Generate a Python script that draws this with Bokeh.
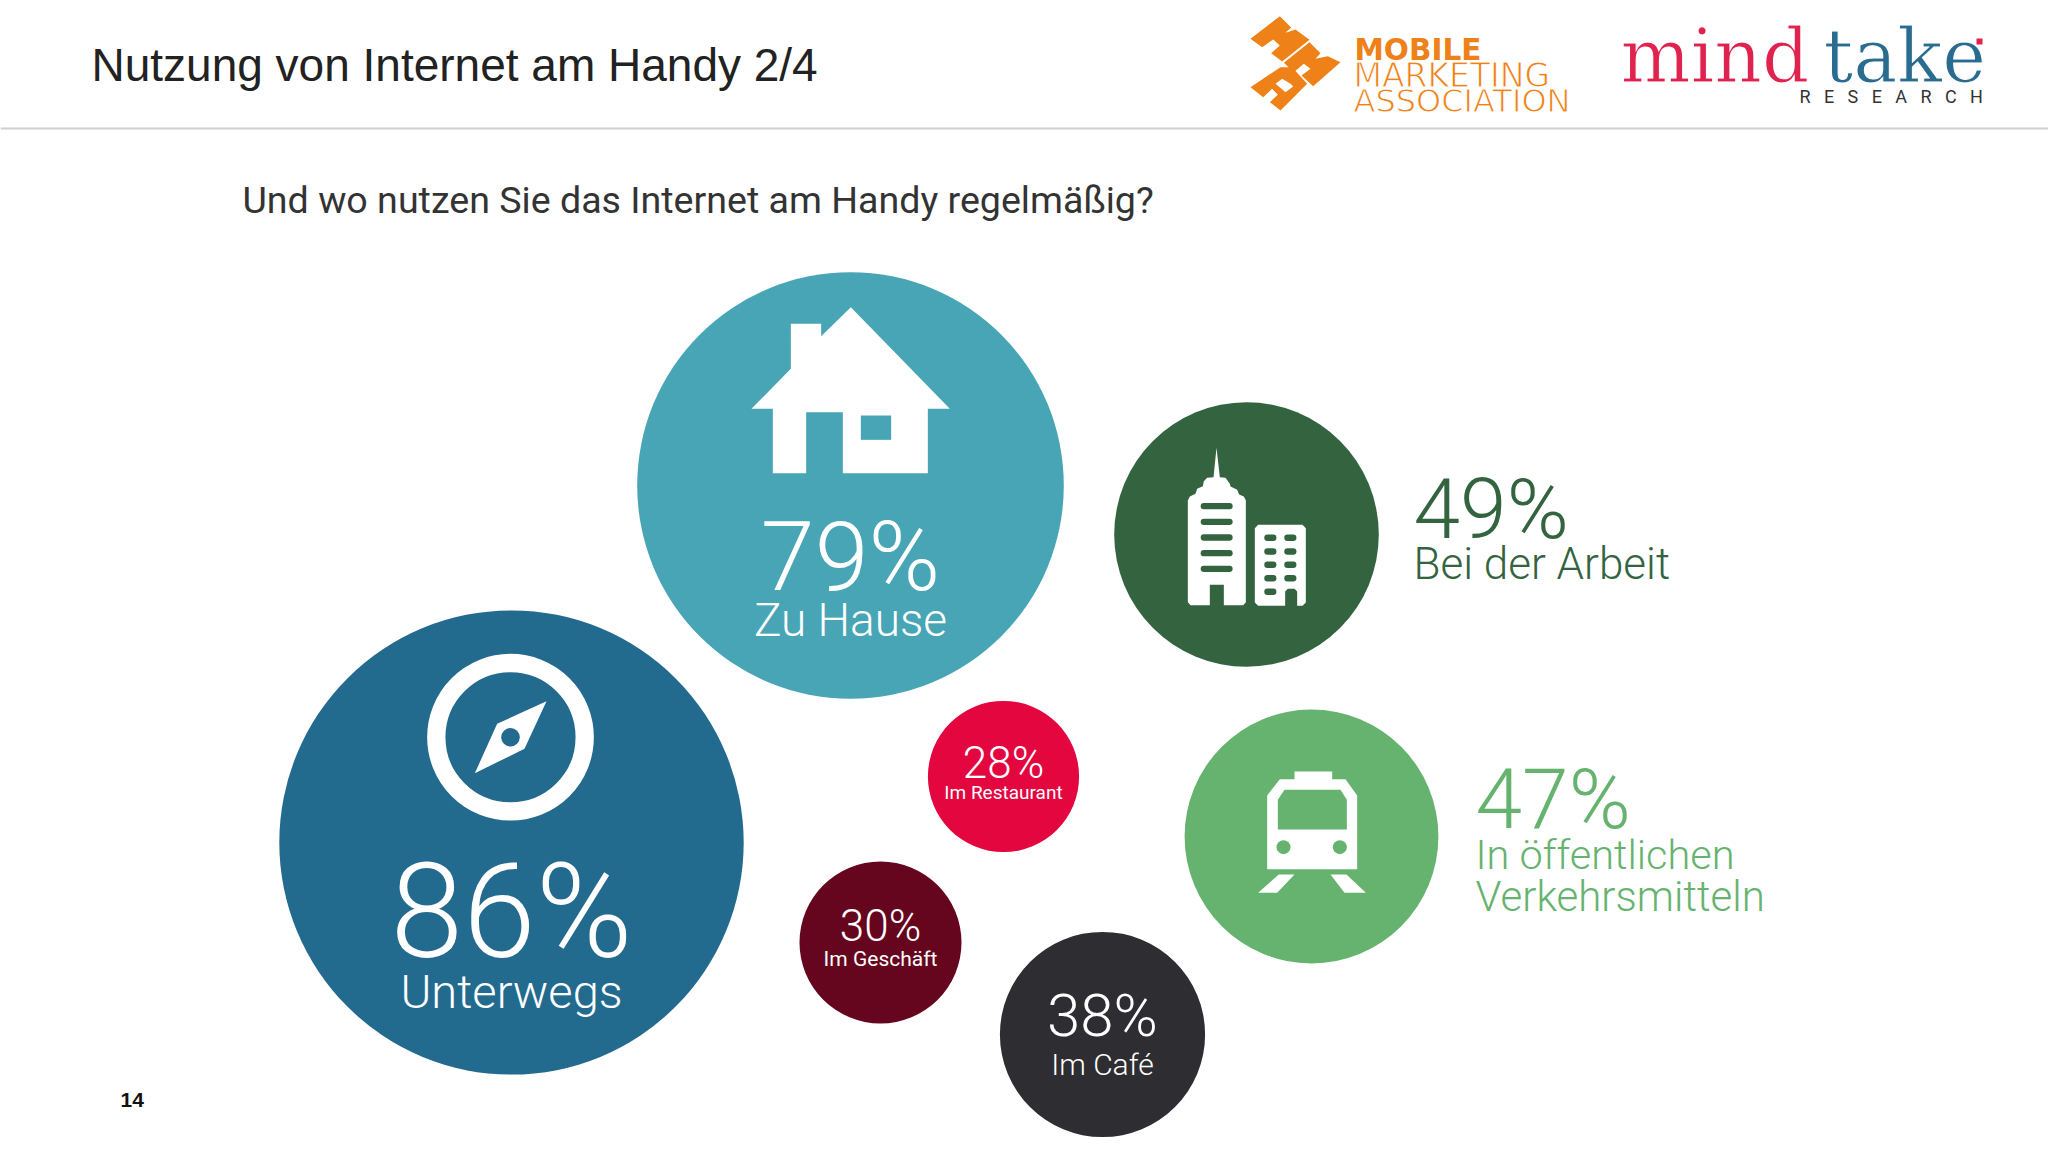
from bokeh.plotting import figure
from bokeh.models import ColumnDataSource, Range1d
from bokeh.core.properties import value
from bokeh.embed import file_html
from bokeh.resources import INLINE

# ---- data ----
categories = ["Unterwegs", "Zu Hause", "Bei der Arbeit", "In öffentlichen Verkehrsmitteln", "Im Café", "Im Geschäft", "Im Restaurant"]
values = [86, 79, 49, 47, 38, 30, 28]
title = "Nutzung von Internet am Handy 2/4"
question = "Und wo nutzen Sie das Internet am Handy regelmäßig?"
page_number = "14"

# ---- layout (separate from data) ----
centers_x = [511, 850, 1246, 1311, 1102, 880, 1003]
centers_y = [842, 485, 534, 836, 1034, 942, 776]
colors = ["#236a8f", "#47a5b5", "#33633f", "#66b36f", "#2e2d31", "#66061e", "#e3063f"]
RADIUS_PER_POINT = 2.7
LIGHT = "Roboto Light"
REG = "Roboto"
BASELINE_SHIFT = 0.35

p = figure(width=2048, height=1152, output_backend="svg", toolbar_location=None,
           x_range=Range1d(0, 2048), y_range=Range1d(1152, 0), min_border=0,
           outline_line_color=None, background_fill_color="white", border_fill_color="white")
p.axis.visible = False
p.grid.visible = False

src = ColumnDataSource(dict(x=centers_x, y=centers_y, r=[v * RADIUS_PER_POINT for v in values],
                            c=colors, name=categories, v=values))
p.circle(x="x", y="y", radius="r", fill_color="c", line_color=None, source=src)


def txt(x, y, s, size, color, font=REG, align="left", style="normal", **kw):
    p.text([x], [y - BASELINE_SHIFT * size], text=[s], text_font=value(font), text_font_size=f"{size}px", text_color=color,
           text_align=align, text_baseline="alphabetic", text_font_style=style, **kw)


def poly(xs, ys, color):
    p.patch(xs, ys, fill_color=color, line_color=None)


def zpoly(pts, ox, oy, color, s=3.0):
    poly([ox + a / s for a, b in pts], [oy + b / s for a, b in pts], color)


def zlines(segs, ox, oy, color, w, s=3.0):
    p.multi_line([[ox + a / s for a in seg[0]] for seg in segs], [[oy + b / s for b in seg[1]] for seg in segs],
                 line_color=color, line_width=w, line_cap="round")


# header
txt(91, 81, title, 46, "#222222", font="Liberation Sans")
p.segment([0], [128], [2048], [128], line_color="#d0d0d0", line_width=2)
txt(242, 213, question, 37.6, "#333333", font="Roboto")
txt(120, 1107, page_number, 21, "#111111", font="Liberation Sans", style="bold")

# MMA logo
ORANGE = "#ee8118"
zpoly([(118, 32), (152, 66), (135, 82), (165, 72), (207, 103), (125, 168), (92, 143), (118, 120), (98, 102), (65, 125), (30, 100)], 1240, 5, ORANGE)
zpoly([(207, 110), (240, 143), (225, 160), (262, 152), (300, 170), (218, 242), (183, 210), (210, 190), (190, 175), (160, 200), (130, 172)], 1240, 5, ORANGE)
zpoly([(120, 185), (155, 185), (200, 235), (120, 315), (88, 290), (112, 268), (95, 250), (68, 275), (30, 245)], 1240, 5, ORANGE)
zpoly([(105, 235), (125, 220), (150, 235), (158, 243), (135, 260)], 1240, 5, "white")
txt(1354, 60, "MOBILE", 29.5, ORANGE, font="DejaVu Sans", style="bold")
txt(1353, 87, "MARKETING", 33, ORANGE, font="DejaVu Sans", text_outline_color="white")
txt(1353, 112, "ASSOCIATION", 32, ORANGE, font="DejaVu Sans", text_outline_color="white")

# mindtake logo
txt(1620, 81, "mind", 74, "#e0224f", font="DejaVu Serif", text_outline_color="white")
txt(1823, 81, "take", 74, "#2a6c90", font="DejaVu Serif", text_outline_color="white")
p.rect([1979], [41], 6, 6, fill_color="#e0224f", line_color=None)
txt(1799, 102, "R\u00a0\u00a0\u00a0E\u00a0\u00a0\u00a0S\u00a0\u00a0\u00a0E\u00a0\u00a0\u00a0A\u00a0\u00a0\u00a0R\u00a0\u00a0\u00a0C\u00a0\u00a0\u00a0H", 18, "#333333")

# house icon
zpoly([(451, 80), (748, 385), (682, 385), (682, 578), (427, 578), (427, 395), (317, 395), (317, 578), (217, 578), (217, 385),
       (153, 385), (271, 265), (271, 130), (362, 130), (362, 167)], 700, 280, "white")
zpoly([(481, 405), (572, 405), (572, 478), (481, 478)], 700, 280, colors[1])

# buildings icon
zpoly([(228, 82), (238, 170), (255, 172), (268, 190), (270, 198), (290, 208), (296, 222), (310, 228), (316, 240), (316, 545), (308, 554),
       (250, 554), (250, 493), (208, 493), (208, 554), (150, 554), (142, 545), (142, 240), (148, 228), (165, 220), (170, 205), (187, 197),
       (190, 182), (200, 172), (219, 170)], 1140, 420, "white")
zlines([([190, 267], [yy, yy]) for yy in (257, 304, 351, 398, 445)], 1140, 420, colors[2], 6.3)
zpoly([(353, 313), (486, 313), (496, 323), (496, 546), (486, 556), (470, 556), (470, 513), (462, 505), (442, 505), (434, 513), (434, 556),
       (353, 556), (343, 546), (343, 323)], 1140, 420, "white")
zlines([([381, 398], [yy, yy]) for yy in (352, 393, 433, 473, 514)] +
       [([441, 458], [yy, yy]) for yy in (352, 393, 433, 473)], 1140, 420, colors[2], 6.5)

# train icon
zpoly([(222, 93), (335, 93), (335, 116), (375, 116), (410, 165), (410, 386), (140, 386), (140, 165), (178, 116), (222, 116)], 1220, 740, "white")
zpoly([(192, 148), (360, 148), (379, 178), (379, 267), (172, 267), (172, 178)], 1220, 740, colors[3])
p.circle([1220 + 189 / 3, 1220 + 358 / 3], [740 + 320 / 3] * 2, radius=7, fill_color=colors[3], line_color=None)
zpoly([(175, 402), (222, 402), (170, 457), (113, 457)], 1220, 740, "white")
zpoly([(330, 402), (378, 402), (436, 457), (372, 457)], 1220, 740, "white")

# compass icon
p.circle([510], [736.7], radius=74.2, fill_color=None, line_color="white", line_width=18.3)
zpoly([(438, 212), (372, 355), (223, 428), (290, 280)], 400, 630, "white")
p.circle([510], [736.7], radius=9.3, fill_color=colors[0], line_color=None)

# bubble labels
W = "white"
txt(511, 957, f"{values[0]}%", 131, W, font=LIGHT, align="center")
txt(511, 1007, categories[0], 47, W, font=LIGHT, align="center")
txt(850, 590, f"{values[1]}%", 97, W, font=LIGHT, align="center")
txt(850, 636, categories[1], 46, W, font=LIGHT, align="center")
txt(1413, 538, f"{values[2]}%", 84, colors[2], font=LIGHT)
txt(1413, 579, categories[2], 44, colors[2], font=LIGHT)
txt(1475, 828, f"{values[3]}%", 84, colors[3], font=LIGHT)
line1, line2 = categories[3].split(" V")
txt(1475, 869, line1, 41.5, colors[3], font=LIGHT)
txt(1475, 911, "V" + line2, 42, colors[3], font=LIGHT)
txt(1102, 1036, f"{values[4]}%", 60, W, font=LIGHT, align="center")
txt(1102, 1074, categories[4], 30, W, font=LIGHT, align="center")
txt(880, 941, f"{values[5]}%", 44, W, font=LIGHT, align="center")
txt(880, 966, categories[5], 21, W, font=REG, align="center")
txt(1003, 778, f"{values[6]}%", 44, W, font=LIGHT, align="center")
txt(1003, 799, categories[6], 19, W, font=REG, align="center")

open("out.html", "w").write(file_html(p, INLINE))
